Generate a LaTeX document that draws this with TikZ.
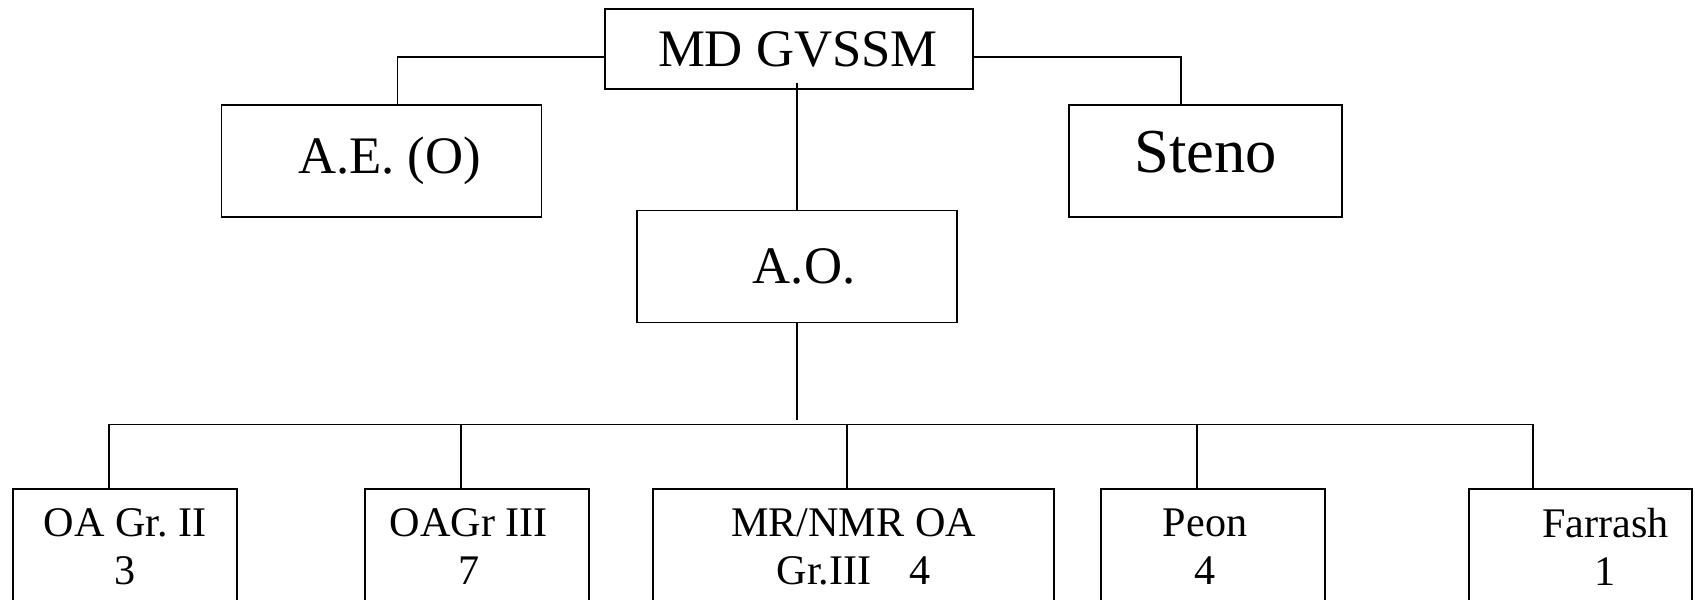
\documentclass[tikz,border=0pt]{standalone}
\usepackage{fontspec}
\setmainfont{Liberation Serif}
\frenchspacing
\begin{document}
\begin{tikzpicture}[
	caja/.style={draw,line width=0.9pt,inner sep=0pt,align=center},
	linea/.style={line width=0.8pt},
	grande/.style={font=\fontsize{30}{34}\selectfont},
	chica/.style={font=\fontsize{24}{27.3}\selectfont,minimum height=2.32cm}]
			\useasboundingbox (0,0) rectangle (33.9,11.98);

			% Jefes
			\node[caja,grande,minimum width=7.37cm,minimum height=1.6cm] (md) at (15.78,11.0) {\hspace*{0.36cm}MD GVSSM};
			\node[caja,grande,minimum width=6.40cm,minimum height=2.25cm] (ae) at (7.63,8.76) {\hspace*{0.32cm}A.E. (O)};
			\node[caja,font=\fontsize{35.6}{40}\selectfont,minimum width=5.46cm,minimum height=2.25cm,text depth=0.36cm] (st) at (24.11,8.76) {Steno};
			\node[caja,grande,minimum width=6.41cm,minimum height=2.24cm] (ao) at (15.94,6.65) {\hspace*{0.28cm}A.O.};

			\draw[linea] ([yshift=-0.16cm]md.west) -| ([xshift=0.32cm]ae.north);
			\draw[linea] ([yshift=-0.16cm]md.east) -| ([xshift=-0.49cm]st.north);
			\draw[linea] ([yshift=0.13cm]md.south -| ao.north) -- (ao.north);
			\draw[linea] (ao.south) -- ++(0,-1.93);

			% Personal
			\node[caja,chica,minimum width=4.48cm] (b1) at (2.50,1.04) {OA Gr. II\\3};
			\node[caja,chica,minimum width=4.49cm] (b2) at (9.54,1.04) {OAGr III\hspace*{0.32cm}\\7\hspace*{0.32cm}};
			\node[caja,chica,minimum width=8.01cm] (b3) at (17.07,1.04) {MR/NMR OA\\Gr.III\hspace{0.9em}4};
			\node[caja,chica,minimum width=4.48cm] (b4) at (24.26,1.04) {Peon\hspace*{0.32cm}\\4\hspace*{0.32cm}};
			\node[caja,chica,minimum width=4.47cm] (b5) at (31.61,1.04) {\hspace*{1cm}Farrash\\\hspace*{1cm}1};

			\draw[linea] ([xshift=-0.32cm]b1.north) -- ++(0,1.28) -| ([xshift=-0.95cm]b5.north);
			\foreach \n/\dx in {b2/-0.32,b3/-0.13,b4/-0.32}
				\draw[linea] ([xshift=\dx cm]\n.north) -- ++(0,1.28);

\end{tikzpicture}
\end{document}
